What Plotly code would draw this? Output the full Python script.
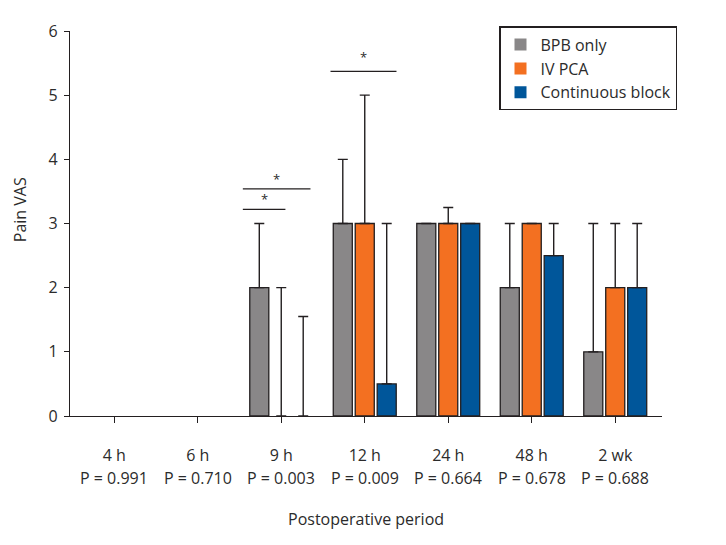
import plotly.graph_objects as go

categories = ["4 h", "6 h", "9 h", "12 h", "24 h", "48 h", "2 wk"]
p_values = ["P = 0.991", "P = 0.710", "P = 0.003", "P = 0.009", "P = 0.664", "P = 0.678", "P = 0.688"]

series_names = ["BPB only", "IV PCA", "Continuous block"]
bpb_only = [0, 0, 2, 3, 3, 2, 1]
iv_pca = [0, 0, 0, 3, 3, 3, 2]
continuous = [0, 0, 0, 0.5, 3, 2.5, 2]

# upper whisker end values
bpb_upper = [0, 0, 3, 4, 3, 3, 3]
iv_upper = [0, 0, 2, 5, 3.25, 3, 3]
cont_upper = [0, 0, 1.55, 3, 3, 3, 3]

colors = ["#898788", "#f37021", "#00569a"]

# significance brackets: (category index, start offset, end offset, line level, star level)
sig_cat = [2, 2, 3]
sig_x0 = [-0.46, -0.46, -0.41]
sig_x1 = [0.05, 0.35, 0.38]
sig_y = [3.22, 3.54, 5.37]
sig_star_y = [3.38, 3.70, 5.60]

FONT = "Open Sans, Liberation Sans, Arial, sans-serif"
TXT = "#2b2b2b"
offset = 0.263
bar_w = 0.228

x_idx = list(range(len(categories)))

fig = go.Figure()
for k, (name, vals, upper, col) in enumerate(zip(series_names,
                                                  [bpb_only, iv_pca, continuous],
                                                  [bpb_upper, iv_upper, cont_upper],
                                                  colors)):
    err = [(u - v) if (u - v) > 0 else 0 for u, v in zip(upper, vals)]
    yv = [v if (v > 0 or u > 0) else None for v, u in zip(vals, upper)]
    lw = [1.3 if v > 0 else 0 for v in vals]
    fig.add_trace(go.Bar(
        name=name,
        x=[i + (k - 1) * offset for i in x_idx],
        y=yv,
        width=bar_w,
        marker=dict(color=col, line=dict(color="#231f20", width=lw)),
        error_y=dict(type="data", symmetric=False, array=err,
                     arrayminus=[0] * len(err), color="#231f20",
                     thickness=1.4, width=5, visible=True),
    ))

for c, a, b, yl, ys in zip(sig_cat, sig_x0, sig_x1, sig_y, sig_star_y):
    fig.add_shape(type="line", xref="x", yref="y", x0=c + a, x1=c + b,
                  y0=yl, y1=yl, line=dict(color="#231f20", width=1.3))
    fig.add_annotation(x=c + (a + b) / 2, y=ys, xref="x", yref="y", text="*",
                       showarrow=False, font=dict(family=FONT, size=13, color=TXT))

for i, p in zip(x_idx, p_values):
    fig.add_annotation(x=i, y=-0.161, xref="x", yref="paper", text=p,
                       showarrow=False, yanchor="middle",
                       font=dict(family=FONT, size=16, color=TXT))

fig.add_annotation(x=0.5, y=-0.267, xref="paper", yref="paper",
                   text="Postoperative period", showarrow=False, yanchor="middle",
                   font=dict(family=FONT, size=16, color=TXT))
fig.add_annotation(x=-0.0845, y=0.537, xref="paper", yref="paper",
                   text="Pain VAS", showarrow=False, textangle=-90,
                   xanchor="center", yanchor="middle",
                   font=dict(family=FONT, size=16, color=TXT))

fig.update_layout(
    width=726, height=545,
    margin=dict(l=62, r=72, t=15, b=137),
    paper_bgcolor="white", plot_bgcolor="white",
    barmode="overlay",
    font=dict(family=FONT, size=16, color=TXT),
    showlegend=True,
    legend=dict(x=0.725, y=1.012, xanchor="left", yanchor="top",
                bordercolor="#231f20", borderwidth=1.3, bgcolor="white",
                font=dict(family=FONT, size=16, color=TXT),
                entrywidth=160, tracegroupgap=0),
    xaxis=dict(range=[-0.53, 6.56], tickmode="array", tickvals=x_idx,
               ticktext=categories, showgrid=False, zeroline=False,
               showline=True, linecolor="#231f20", linewidth=1.4,
               ticks="outside", ticklen=6, tickwidth=1.2, tickcolor="#231f20",
               ticklabelstandoff=19),
    yaxis=dict(range=[0, 6], tickvals=[0, 1, 2, 3, 4, 5, 6], showgrid=False,
               zeroline=False, showline=True, linecolor="#231f20", linewidth=1.4,
               ticks="outside", ticklen=5, tickwidth=1.2, tickcolor="#231f20",
               ticklabelstandoff=3),
)

fig.write_html("out.html")
